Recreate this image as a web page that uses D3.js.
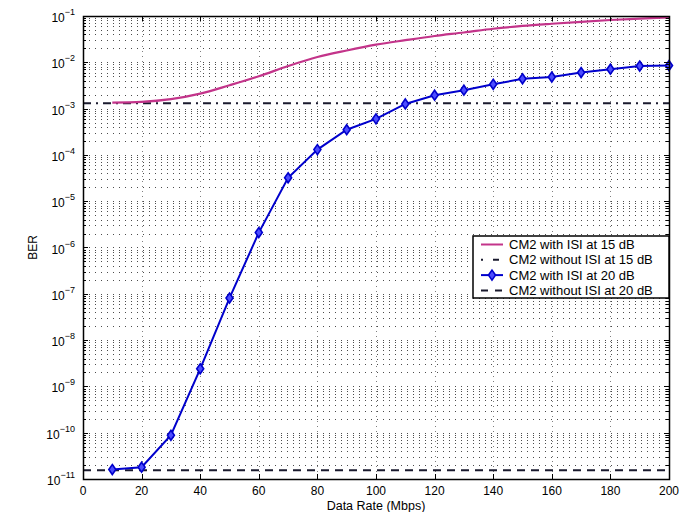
<!DOCTYPE html>
<html>
<head>
<meta charset="utf-8">
<script src="https://cdn.jsdelivr.net/npm/d3@7/dist/d3.min.js"></script>
<style>
body { margin: 0; background: #fff; }
text { font-family: "Liberation Sans", Arial, sans-serif; }
</style>
</head>
<body>
<div id="chart"></div>
<script>
// data
var rate = [10, 20, 30, 40, 50, 60, 70, 80, 90, 100, 110, 120, 130, 140, 150, 160, 170, 180, 190, 200];
var isi15 = [1.35e-3, 1.4e-3, 1.6e-3, 2.1e-3, 3.2e-3, 5.0e-3, 8.3e-3, 1.3e-2, 1.8e-2, 2.4e-2, 3.0e-2,
             3.7e-2, 4.4e-2, 5.3e-2, 6.1e-2, 6.8e-2, 7.5e-2, 8.2e-2, 8.8e-2, 9.3e-2];
var isi20 = [1.6e-11, 1.8e-11, 8.8e-11, 2.4e-9, 8.1e-8, 2.1e-6, 3.2e-5, 1.3e-4, 3.5e-4, 6.0e-4, 1.26e-3,
             1.95e-3, 2.5e-3, 3.35e-3, 4.4e-3, 4.8e-3, 6.0e-3, 7.1e-3, 8.3e-3, 8.5e-3];
var noIsi15 = 1.3e-3;
var noIsi20 = 1.55e-11;
var xTicks = [0, 20, 40, 60, 80, 100, 120, 140, 160, 180, 200];
var yExp = [-11, -10, -9, -8, -7, -6, -5, -4, -3, -2, -1];
var legendLabels = ['CM2 with ISI at 15 dB', 'CM2 without ISI at 15 dB', 'CM2 with ISI at 20 dB', 'CM2 without ISI at 20 dB'];

var W = 694, H = 512;
var pL = 83, pR = 669, pT = 16, pB = 479;
var pink = '#c3348a';
var blue = '#0000cc';
var dark = '#1a1a2e';

var svg = d3.select('#chart').append('svg').attr('width', W).attr('height', H);

var x = d3.scaleLinear().domain([0, 200]).range([pL, pR]);
var y = d3.scaleLog().domain([1e-11, 1e-1]).range([pB, pT]);

// minor y values (2..9 in each decade)
var minorY = [];
yExp.slice(0, -1).forEach(function (e) {
  for (var k = 2; k <= 9; k++) minorY.push(k * Math.pow(10, e));
});
var majorY = yExp.map(function (e) { return Math.pow(10, e); });

var grid = svg.append('g').attr('stroke', '#000').attr('stroke-width', 1).attr('fill', 'none');
grid.selectAll('.hg').data(minorY.concat(majorY.slice(1, -1))).enter().append('line')
  .attr('x1', pL).attr('x2', pR)
  .attr('y1', function (d) { return Math.round(y(d)) + 0.5; })
  .attr('y2', function (d) { return Math.round(y(d)) + 0.5; })
  .attr('stroke-dasharray', '1,5').attr('stroke-opacity', 0.7);
grid.selectAll('.vg').data(xTicks.slice(1, -1)).enter().append('line')
  .attr('y1', pT).attr('y2', pB)
  .attr('x1', function (d) { return Math.round(x(d)) + 0.5; })
  .attr('x2', function (d) { return Math.round(x(d)) + 0.5; })
  .attr('stroke-dasharray', '1,4').attr('stroke-opacity', 0.5);

// reference lines without ISI
svg.append('line')
  .attr('x1', x(0)).attr('x2', x(200))
  .attr('y1', y(noIsi15)).attr('y2', y(noIsi15))
  .attr('stroke', dark).attr('stroke-width', 2)
  .attr('stroke-dasharray', '8,5,2,5');
svg.append('line')
  .attr('x1', x(0)).attr('x2', x(200))
  .attr('y1', y(noIsi20)).attr('y2', y(noIsi20))
  .attr('stroke', dark).attr('stroke-width', 2)
  .attr('stroke-dasharray', '8,6');

var line15 = d3.line()
  .x(function (d, i) { return x(rate[i]); })
  .y(function (d) { return y(d); })
  .curve(d3.curveMonotoneX);
svg.append('path').datum(isi15)
  .attr('d', line15)
  .attr('fill', 'none').attr('stroke', pink).attr('stroke-width', 2.2);

var line20 = d3.line()
  .x(function (d, i) { return x(rate[i]); })
  .y(function (d) { return y(d); });
svg.append('path').datum(isi20)
  .attr('d', line20)
  .attr('fill', 'none').attr('stroke', blue).attr('stroke-width', 2);

var diamond = 'M0,-5L3.5,0L0,5L-3.5,0Z';
svg.selectAll('.mk').data(isi20).enter().append('path')
  .attr('d', diamond)
  .attr('transform', function (d, i) { return 'translate(' + x(rate[i]) + ',' + y(d) + ')'; })
  .attr('fill', '#4d4dff').attr('stroke', blue).attr('stroke-width', 1.6);

// axes box and ticks
var ax = svg.append('g').attr('stroke', '#000').attr('stroke-width', 1);
xTicks.forEach(function (t) {
  var xx = Math.round(x(t)) + 0.5;
  ax.append('line').attr('x1', xx).attr('x2', xx).attr('y1', pB).attr('y2', pB - 5);
  ax.append('line').attr('x1', xx).attr('x2', xx).attr('y1', pT).attr('y2', pT + 5);
});
majorY.forEach(function (v) {
  var yy = Math.round(y(v)) + 0.5;
  ax.append('line').attr('x1', pL).attr('x2', pL + 5).attr('y1', yy).attr('y2', yy);
  ax.append('line').attr('x1', pR).attr('x2', pR - 5).attr('y1', yy).attr('y2', yy);
});
minorY.forEach(function (v) {
  var yy = Math.round(y(v)) + 0.5;
  ax.append('line').attr('x1', pL).attr('x2', pL + 3).attr('y1', yy).attr('y2', yy);
  ax.append('line').attr('x1', pR).attr('x2', pR - 3).attr('y1', yy).attr('y2', yy);
});
svg.append('rect')
  .attr('x', pL + 0.5).attr('y', pT + 0.5)
  .attr('width', pR - pL).attr('height', pB - pT)
  .attr('fill', 'none').attr('stroke', '#000').attr('stroke-width', 1.5);

// tick labels
svg.selectAll('.xl').data(xTicks).enter().append('text')
  .attr('x', function (d) { return x(d); })
  .attr('y', pB + 16)
  .attr('text-anchor', 'middle').attr('font-size', 12)
  .text(function (d) { return d; });

var yl = svg.selectAll('.yl').data(yExp).enter().append('text')
  .attr('x', pL - 8)
  .attr('y', function (d) { return y(Math.pow(10, d)) + 6; })
  .attr('text-anchor', 'end').attr('font-size', 12);
yl.append('tspan').text('10');
yl.append('tspan').attr('dy', -7).attr('font-size', 9).text(function (d) { return '\u2212' + (-d); });

svg.append('text')
  .attr('x', x(100)).attr('y', 510)
  .attr('text-anchor', 'middle').attr('font-size', 12.5)
  .text('Data Rate (Mbps)');
svg.append('text')
  .attr('transform', 'translate(37,' + ((pT + pB) / 2) + ') rotate(-90)')
  .attr('text-anchor', 'middle').attr('font-size', 12)
  .text('BER');

// legend
var lg = svg.append('g');
var lgX = 473, lgY = 236, lgW = 196, lgH = 62;
lg.append('rect')
  .attr('x', lgX).attr('y', lgY).attr('width', lgW).attr('height', lgH)
  .attr('fill', '#fff').attr('stroke', '#000').attr('stroke-width', 1.5);
var legendStroke = [pink, dark, blue, dark];
var legendDash = [null, '2,10,6,10', null, '7,7'];
legendLabels.forEach(function (lab, i) {
  var ly = lgY + 8.5 + i * 15.3;
  var l = lg.append('line')
    .attr('x1', lgX + 8).attr('x2', lgX + 30).attr('y1', ly).attr('y2', ly)
    .attr('stroke', legendStroke[i]).attr('stroke-width', 2);
  if (legendDash[i]) l.attr('stroke-dasharray', legendDash[i]);
  if (i == 2) {
    lg.append('path').attr('d', diamond)
      .attr('transform', 'translate(' + (lgX + 19) + ',' + ly + ')')
      .attr('fill', '#4d4dff').attr('stroke', blue).attr('stroke-width', 1.6);
  }
  lg.append('text')
    .attr('x', lgX + 36).attr('y', ly + 4.5)
    .attr('font-size', 13)
    .text(lab);
});
</script>
</body>
</html>
